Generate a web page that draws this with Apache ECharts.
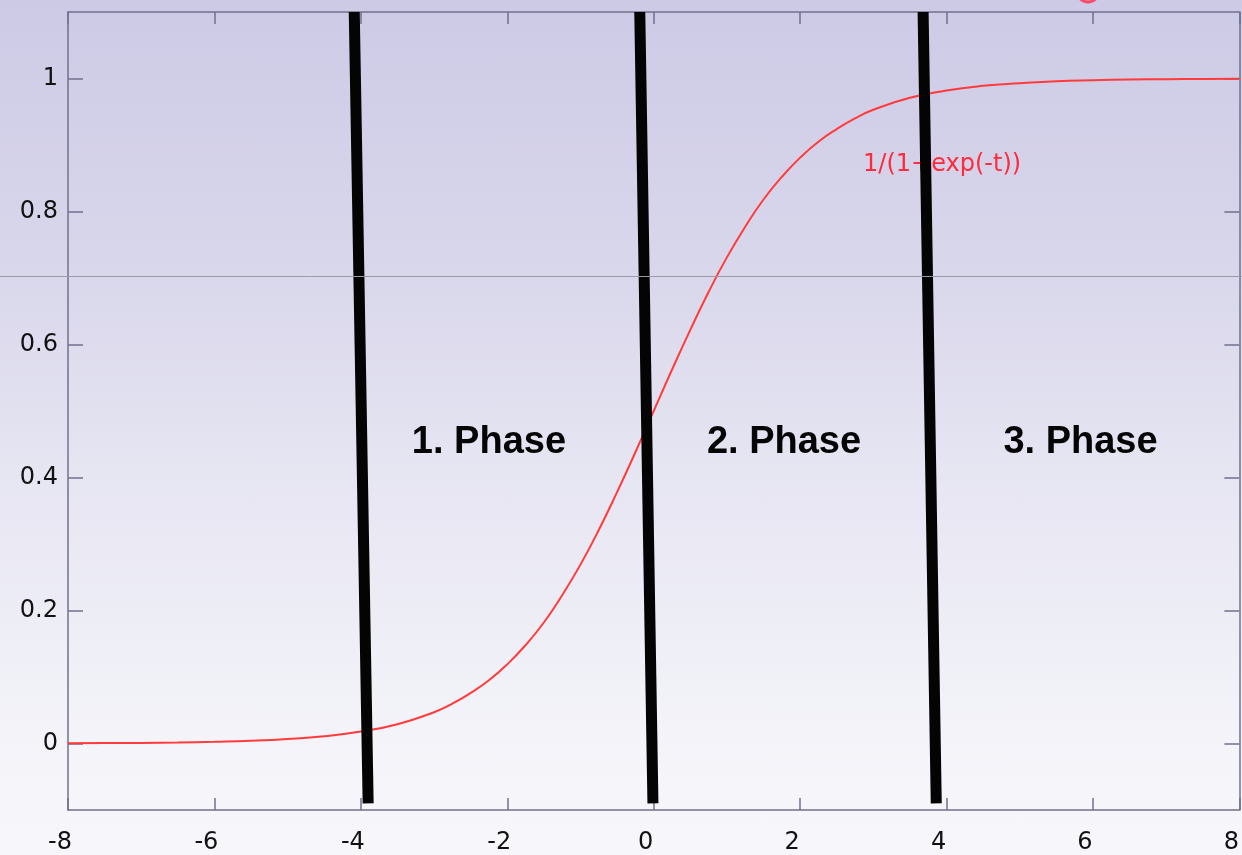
<!DOCTYPE html>
<html>
<head>
<meta charset="utf-8">
<script src="https://cdn.jsdelivr.net/npm/echarts@6/dist/echarts.min.js"></script>
<style>
  html, body { margin: 0; padding: 0; }
  #chart {
    width: 1242px;
    height: 855px;
    background: linear-gradient(to bottom, #cdcae6 0%, #d9d7eb 32%, #e6e5f2 55%, #f3f3f9 85%, #f7f7fb 100%);
  }
</style>
</head>
<body>
<div id="chart"></div>
<script>
// curve (t, value)
var curveT = [-8, -7.5, -7, -6.5, -6, -5.5, -5, -4.5, -4, -3.5, -3, -2.75, -2.5, -2.25, -2, -1.75, -1.5, -1.25, -1, -0.75, -0.5, -0.25,
  0, 0.25, 0.5, 0.75, 1, 1.25, 1.5, 1.75, 2, 2.25, 2.5, 2.75, 3, 3.5, 4, 4.5, 5, 5.5, 6, 6.5, 7, 7.5, 8]
var curveV = [0.0003, 0.0006, 0.0009, 0.0015, 0.0025, 0.004, 0.0067, 0.011, 0.018, 0.029, 0.047, 0.06, 0.076, 0.095, 0.119, 0.148, 0.182, 0.223, 0.269, 0.321, 0.378, 0.438,
  0.5, 0.562, 0.622, 0.679, 0.731, 0.777, 0.818, 0.852, 0.881, 0.905, 0.924, 0.94, 0.953, 0.971, 0.982, 0.989, 0.993, 0.996, 0.9975, 0.9985, 0.999, 0.9994, 0.9997]

// the three thick black dividers: [x at top, x at bottom]
var dividerTopX = [-4.09, -0.19, 3.68]
var dividerBottomX = [-3.90, -0.01, 3.86]
var dividerTopY = 1.1
var dividerBottomY = -0.09

var phaseNames = ['1. Phase', '2. Phase', '3. Phase']
var phaseX = [-2.25, 1.78, 5.83]
var phaseY = 0.452

var curveName = '1/(1+exp(-t))'
var curveLabelPos = [2.86, 0.871]

var yTicks = [0, 0.2, 0.4, 0.6, 0.8, 1]

var axisColor = '#72708e'
var labelFont = 'DejaVu Sans'

var myChart = echarts.init(document.getElementById('chart'))

var curveData = curveT.map(function (t, i) { return [t, curveV[i]] })

var dividerSeries = dividerTopX.map(function (x, i) {
  return {
    type: 'line',
    silent: true,
    showSymbol: false,
    z: 5,
    lineStyle: { color: '#040404', width: 11, cap: 'butt' },
    data: [[x, dividerTopY], [dividerBottomX[i], dividerBottomY]]
  }
})

var axisBase = {
  type: 'value',
  axisLine: { show: true, onZero: false, lineStyle: { color: axisColor, width: 1.5 } },
  splitLine: { show: false }
}

myChart.setOption({
  animation: false,
  grid: { left: 68, right: 1, top: 12, bottom: 45, containLabel: false },
  xAxis: [
    Object.assign({}, axisBase, {
      position: 'bottom',
      min: -8,
      max: 8,
      interval: 2,
      axisTick: { show: true, inside: true, length: 12, lineStyle: { color: axisColor, width: 1.5 } },
      axisLabel: {
        color: '#111',
        fontFamily: labelFont,
        fontSize: 24,
        margin: 21,
        padding: [0, 16, 0, 0],
        showMinLabel: true,
        showMaxLabel: true
      }
    }),
    Object.assign({}, axisBase, {
      position: 'top',
      min: -8,
      max: 8,
      interval: 2,
      axisTick: { show: true, inside: true, length: 12, lineStyle: { color: axisColor, width: 1.5 } },
      axisLabel: { show: false }
    })
  ],
  yAxis: [
    Object.assign({}, axisBase, {
      position: 'left',
      min: -0.1,
      max: 1.1,
      axisTick: { show: true, inside: true, length: 15, customValues: yTicks, lineStyle: { color: axisColor, width: 1.5 } },
      axisLabel: {
        color: '#111',
        fontFamily: labelFont,
        fontSize: 24,
        margin: 10,
        padding: [4, 0, 0, 0],
        customValues: yTicks,
        formatter: function (v) { return String(Math.round(v * 10) / 10) }
      }
    }),
    Object.assign({}, axisBase, {
      position: 'right',
      min: -0.1,
      max: 1.1,
      axisTick: { show: true, inside: true, length: 15, customValues: yTicks, lineStyle: { color: axisColor, width: 1.5 } },
      axisLabel: { show: false }
    })
  ],
  series: [
    {
      name: curveName,
      type: 'line',
      smooth: true,
      showSymbol: false,
      z: 3,
      lineStyle: { color: '#ff3b3b', width: 2 },
      data: curveData
    }
  ].concat(dividerSeries).concat([
    {
      type: 'scatter',
      symbolSize: 0,
      silent: true,
      z: 6,
      itemStyle: { opacity: 1 },
      label: {
        show: true,
        position: 'inside',
        formatter: function (p) { return phaseNames[p.dataIndex] },
        color: '#050505',
        opacity: 1,
        fontFamily: 'Liberation Sans',
        fontWeight: 'bold',
        fontSize: 38
      },
      data: phaseX.map(function (x) { return [x, phaseY] })
    },
    {
      type: 'scatter',
      symbolSize: 0,
      silent: true,
      z: 4,
      itemStyle: { opacity: 1 },
      label: {
        show: true,
        position: 'right',
        distance: 0,
        formatter: curveName,
        color: '#ff2a3c',
        opacity: 1,
        fontFamily: labelFont,
        fontSize: 24
      },
      data: [curveLabelPos]
    }
  ]),
  graphic: [
    {
      type: 'line',
      silent: true,
      z: 100,
      shape: { x1: 0, y1: 276.5, x2: 1242, y2: 276.5 },
      style: { stroke: '#9a9aa6', lineWidth: 1 }
    },
    {
      type: 'circle',
      silent: true,
      z: 100,
      shape: { cx: 1088, cy: -9, r: 11 },
      style: { fill: 'none', stroke: '#ff4a6a', lineWidth: 3 }
    }
  ]
})
</script>
</body>
</html>
